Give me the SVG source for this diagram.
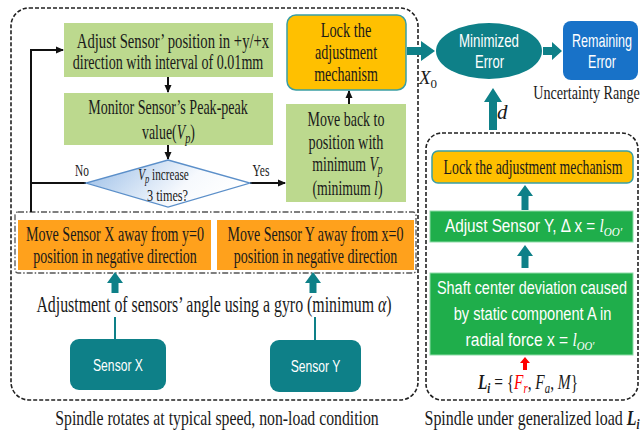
<svg xmlns="http://www.w3.org/2000/svg" width="641" height="433" viewBox="0 0 641 433">
<defs>
<style>
.serif{font-family:"Liberation Serif","Times New Roman",serif;fill:#1a1a1a;text-anchor:middle}
.sans{font-family:"Liberation Sans",Arial,sans-serif;fill:#fff;text-anchor:middle}
.it{font-style:italic}
.mi{font-family:"Liberation Serif","Times New Roman",serif;font-style:italic}
.lg{fill:#bcd98e}
.or{fill:#ffa11c}
.lock{fill:#ffc000;stroke:#3a9ea4;stroke-width:1.5}
.teal{fill:#0e8088}
.green{fill:#1fae4b;stroke:#8fdca8;stroke-width:1}
.ln{stroke:#111;stroke-width:2;fill:none}
.tl{stroke:#0e8088;stroke-width:2;fill:none}
.dash{fill:none;stroke:#222;stroke-width:1.6;stroke-dasharray:4 2}
.dashdot{fill:none;stroke:#555;stroke-width:1.3;stroke-dasharray:6 2 1.5 2}
</style>
<linearGradient id="dg" x1="0" y1="0" x2="1" y2="0.3">
<stop offset="0" stop-color="#96bbe6"/><stop offset="0.7" stop-color="#f6f9fd"/><stop offset="1" stop-color="#ffffff"/>
</linearGradient>
<marker id="ah" markerWidth="8" markerHeight="8" refX="7" refY="4" orient="auto" markerUnits="userSpaceOnUse"><path d="M0,0.5 L8,4 L0,7.5 z" fill="#111"/></marker>
</defs>

<g id="containers">
<rect class="dash" x="11" y="8" width="407" height="392" rx="18"/>
<rect class="dash" x="426" y="133" width="212" height="267" rx="16"/>
<rect class="dashdot" x="15" y="212" width="401" height="61" rx="3"/>
</g>

<g id="connectors">
<line class="ln" x1="168" y1="77" x2="168" y2="92" marker-end="url(#ah)"/>
<line class="ln" x1="168" y1="145" x2="168" y2="159" marker-end="url(#ah)"/>
<line class="ln" x1="349" y1="104" x2="349" y2="91" marker-end="url(#ah)"/>
<polyline class="ln" points="31,212 31,50 63,50" marker-end="url(#ah)"/>
<line class="ln" x1="86" y1="183" x2="31" y2="183"/>
<line class="ln" x1="250" y1="183" x2="285" y2="183" marker-end="url(#ah)"/>
<text class="serif" transform="translate(82 0) scale(0.71 1)" x="0" y="176" font-size="16">No</text>
<text class="serif" transform="translate(261 0) scale(0.72 1)" x="0" y="176" font-size="16">Yes</text>
<polygon class="teal" points="115,272 123,283 118.5,283 118.5,293 111.5,293 111.5,283 107,283"/>
<polygon class="teal" points="313,272 321,283 316.5,283 316.5,293 309.5,293 309.5,283 305,283"/>
<line class="tl" x1="115" y1="317" x2="115" y2="339"/>
<line class="tl" x1="315" y1="317" x2="315" y2="340"/>
<polygon class="teal" points="407,47 421,47 421,41 435,51 421,61 421,55 407,55"/>
<polygon class="teal" points="543,47 552,47 552,42 562,51 552,60 552,55 543,55"/>
<polygon class="teal" points="493,88 502,102 497,102 497,130 489,130 489,102 484,102"/>
<polygon class="teal" points="525,185 533,196 528.5,196 528.5,210 521.5,210 521.5,196 517,196"/>
<polygon class="teal" points="525,245 533,256 528.5,256 528.5,268 521.5,268 521.5,256 517,256"/>
<polygon fill="#ff0000" points="525,357 530,363 527,363 527,370 523,370 523,363 520,363"/>
<text class="serif it" x="419" y="84" font-size="19" style="text-anchor:start">X<tspan font-size="13" dy="4" style="font-style:normal">0</tspan></text>
<text class="serif it" x="497" y="119" font-size="21" style="text-anchor:start">d</text>
</g>

<g id="adjust-position">
<rect class="lg" x="64" y="23" width="209" height="54"/>
<text class="serif" transform="translate(173 0) scale(0.735 1)" x="0" y="48" font-size="20">Adjust Sensor’ position in +y/+x</text>
<text class="serif" transform="translate(168 0) scale(0.705 1)" x="0" y="69" font-size="20">direction with interval of 0.01mm</text>
</g>

<g id="monitor">
<rect class="lg" x="64" y="93" width="209" height="52"/>
<text class="serif" transform="translate(168 0) scale(0.703 1)" x="0" y="114" font-size="20">Monitor Sensor’s Peak-peak</text>
<text class="serif" transform="translate(168.5 0) scale(0.694 1)" x="0" y="139" font-size="20">value(<tspan class="it">V</tspan><tspan class="it" font-size="15" dy="4">p</tspan><tspan dy="-4">)</tspan></text>
</g>

<g id="decision">
<polygon points="168,160 250,183 168,207 86,183" fill="url(#dg)" stroke="#5b8fc9" stroke-width="1.3"/>
<text class="serif" transform="translate(163.5 0) scale(0.66 1)" x="0" y="180" font-size="17"><tspan class="it">V</tspan><tspan class="it" font-size="13" dy="3">p</tspan><tspan dy="-3"> increase</tspan></text>
<text class="serif" transform="translate(167.5 0) scale(0.72 1)" x="0" y="201" font-size="17">3 times?</text>
</g>

<g id="lock-left">
<rect class="lock" x="287" y="15" width="119" height="75" rx="9"/>
<text class="serif" transform="translate(346 0) scale(0.72 1)" x="0" y="37" font-size="20">Lock the</text>
<text class="serif" transform="translate(346 0) scale(0.71 1)" x="0" y="59" font-size="20">adjustment</text>
<text class="serif" transform="translate(346 0) scale(0.70 1)" x="0" y="81" font-size="20">mechanism</text>
</g>

<g id="move-back">
<rect class="lg" x="286" y="104" width="120" height="98"/>
<text class="serif" transform="translate(346 0) scale(0.70 1)" x="0" y="126" font-size="20">Move back to</text>
<text class="serif" transform="translate(346 0) scale(0.714 1)" x="0" y="149" font-size="20">position with</text>
<text class="serif" transform="translate(347.5 0) scale(0.69 1)" x="0" y="171" font-size="20">minimum <tspan class="it">V</tspan><tspan class="it" font-size="14" dy="3">p</tspan></text>
<text class="serif" transform="translate(347.5 0) scale(0.69 1)" x="0" y="195" font-size="20">(minimum <tspan class="it">l</tspan>)</text>
</g>

<g id="move-x">
<rect class="or" x="18" y="220" width="193" height="50"/>
<text class="serif" transform="translate(115 0) scale(0.704 1)" x="0" y="241" font-size="20">Move Sensor X away from y=0</text>
<text class="serif" transform="translate(115 0) scale(0.70 1)" x="0" y="263" font-size="20">position in negative direction</text>
</g>

<g id="move-y">
<rect class="or" x="217" y="220" width="197" height="50"/>
<text class="serif" transform="translate(315.5 0) scale(0.70 1)" x="0" y="241" font-size="20">Move Sensor Y away from x=0</text>
<text class="serif" transform="translate(315.5 0) scale(0.70 1)" x="0" y="263" font-size="20">position in negative direction</text>
</g>

<g id="gyro">
<text class="serif" transform="translate(214 0) scale(0.69 1)" x="0" y="312" font-size="23">Adjustment of sensors’ angle using a gyro (minimum <tspan class="it">α</tspan>)</text>
</g>

<g id="sensor-x">
<rect class="teal" x="70" y="339" width="96" height="51" rx="9"/>
<text class="sans" transform="translate(118 0) scale(0.715 1)" x="0" y="371" font-size="17">Sensor X</text>
</g>

<g id="sensor-y">
<rect class="teal" x="270" y="340" width="91" height="52" rx="9"/>
<text class="sans" transform="translate(315.5 0) scale(0.715 1)" x="0" y="372" font-size="17">Sensor Y</text>
</g>

<g id="caption-left">
<text class="serif" transform="translate(217 0) scale(0.717 1)" x="0" y="425" font-size="22">Spindle rotates at typical speed, non-load condition</text>
</g>

<g id="minimized-error">
<ellipse class="teal" cx="489" cy="51" rx="53" ry="28"/>
<text class="sans" transform="translate(489 0) scale(0.74 1)" x="0" y="47" font-size="18">Minimized</text>
<text class="sans" transform="translate(489.5 0) scale(0.725 1)" x="0" y="68" font-size="18">Error</text>
</g>

<g id="remaining-error">
<rect x="563" y="21" width="75" height="59" rx="8" fill="#1872c8"/>
<text class="sans" transform="translate(602 0) scale(0.70 1)" x="0" y="47" font-size="18">Remaining</text>
<text class="sans" transform="translate(602 0) scale(0.70 1)" x="0" y="68" font-size="18">Error</text>
</g>

<g id="uncertainty">
<text class="serif" transform="translate(586.5 0) scale(0.745 1)" x="0" y="99" font-size="19">Uncertainty Range</text>
</g>

<g id="lock-right">
<rect class="lock" x="432" y="151" width="201" height="32" rx="6"/>
<text class="serif" transform="translate(533 0) scale(0.69 1)" x="0" y="174" font-size="20">Lock the adjustment mechanism</text>
</g>

<g id="adjust-sensor-y">
<rect class="green" x="430" y="211" width="203" height="31"/>
<text class="sans" transform="translate(533.5 0) scale(0.85 1)" x="0" y="232" font-size="18">Adjust Sensor Y, Δ x = <tspan class="mi">l</tspan><tspan class="mi" font-size="13" dy="4">OO′</tspan></text>
</g>

<g id="shaft-deviation">
<rect class="green" x="430" y="273" width="203" height="82"/>
<text class="sans" transform="translate(532 0) scale(0.76 1)" x="0" y="294" font-size="19">Shaft center deviation caused</text>
<text class="sans" transform="translate(532.5 0) scale(0.77 1)" x="0" y="320" font-size="19">by static component A in</text>
<text class="sans" transform="translate(530 0) scale(0.82 1)" x="0" y="346" font-size="19">radial force x = <tspan class="mi">l</tspan><tspan class="mi" font-size="13" dy="4">OO′</tspan></text>
</g>

<g id="load">
<text class="serif" transform="translate(528 0) scale(0.77 1)" x="0" y="389" font-size="20"><tspan class="it" font-weight="bold">L</tspan><tspan class="it" font-weight="bold" font-size="14" dy="4">i</tspan><tspan dy="-4"> = {</tspan><tspan class="it" fill="#ff0000">F</tspan><tspan class="it" fill="#ff0000" font-size="14" dy="4">r</tspan><tspan dy="-4">, </tspan><tspan class="it">F</tspan><tspan class="it" font-size="14" dy="4">a</tspan><tspan dy="-4">, </tspan><tspan class="it">M</tspan>}</text>
</g>

<g id="caption-right">
<text class="serif" transform="translate(532 0) scale(0.726 1)" x="0" y="425" font-size="22">Spindle under generalized load <tspan class="it" font-weight="bold">L</tspan><tspan class="it" font-weight="bold" font-size="15" dy="4">i</tspan></text>
</g>
</svg>
